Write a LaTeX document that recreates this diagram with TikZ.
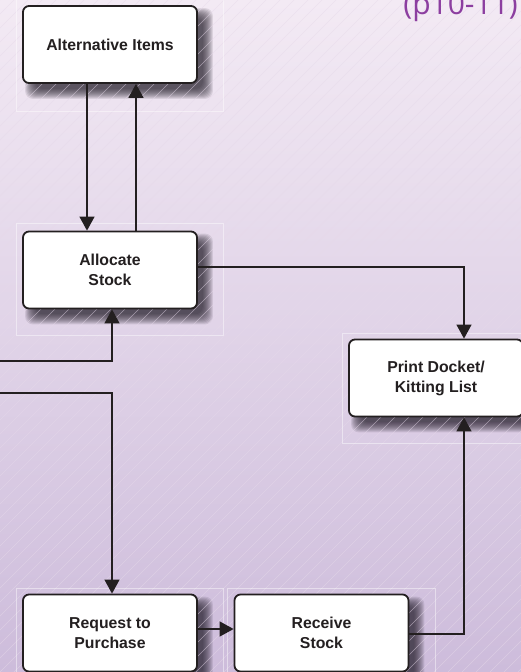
\documentclass[tikz,border=0pt]{standalone}
\usepackage{fontspec}
\setmainfont{Liberation Sans}
\newfontfamily\titlefont{Open Sans}
\usetikzlibrary{arrows.meta}
\definecolor{ink}{HTML}{231F20}
\definecolor{bgtop}{HTML}{F3EAF4}
\definecolor{bgmid}{HTML}{E3D3E8}
\definecolor{bgbot}{HTML}{CDBCDB}
\definecolor{hatchc}{HTML}{E6D9EA}
\definecolor{titlec}{RGB}{140,62,160}
\definecolor{shadowc}{HTML}{1E1824}
\tikzset{
  procbox/.style={draw=ink, line width=1.8pt, fill=white, rounded corners=6pt,
    minimum width=174pt, minimum height=77pt, inner sep=0pt, align=center,
    text=ink, font=\bfseries\fontsize{15.8}{20}\selectfont},
  conn/.style={draw=ink, line width=1.3pt},
  arr/.style={conn, -{Triangle[length=14pt,width=15pt]}},
  framebox/.style={draw=white, draw opacity=0.45, line width=0.6pt},
}
\newcommand{\myshadow}[1]{%
  \foreach \e in {0,...,10}{%
    \fill[shadowc, opacity=0.1, rounded corners=8pt]
      ([shift={(13-\e,5+\e)}]#1.south west) rectangle ([shift={(5+\e,13-\e)}]#1.north east);
  }%
}
\begin{document}
\begin{tikzpicture}[x=1pt,y=-1pt]
\useasboundingbox (0,0) rectangle (521,672);
\clip (0,0) rectangle (521,672);
\shade[top color=bgtop, middle color=bgmid, bottom color=bgbot] (0,0) rectangle (521,672);

% nodes (invisible first pass for positions)
\path
  node[procbox, draw=none, fill=none, text opacity=0] (alt) at (110,44.5) {Alternative Items}
  node[procbox, draw=none, fill=none, text opacity=0] (alloc) at (110,270) {Allocate\\Stock}
  node[procbox, draw=none, fill=none, text opacity=0] (print) at (436,378) {Print Docket/\\Kitting List}
  node[procbox, draw=none, fill=none, text opacity=0] (req) at (110,633) {Request to\\Purchase}
  node[procbox, draw=none, fill=none, text opacity=0] (recv) at (321.5,633) {Receive\\Stock};

% shadows
\myshadow{alt}
\myshadow{alloc}
\myshadow{print}
\myshadow{req}
\myshadow{recv}

% hatching
\foreach \i in {-700,-686,...,530}{
  \draw[hatchc, line width=0.5pt, opacity=0.55] (\i,672) -- (\i+672,0);
}

% faint frames
\draw[framebox] (16,-1) rectangle (223,111);
\draw[framebox] (16,223) rectangle (223,335);
\draw[framebox] (342,333) rectangle (549,443);
\draw[framebox] (16,588) rectangle (223,700);
\draw[framebox] (227,588) rectangle (435,700);

% title
\node[anchor=base east, inner sep=0pt, text=titlec, font=\titlefont\fontsize{30}{36}\selectfont] (title) at (518,14) {(p10-11)};

% boxes
\node[procbox] (alt) at (110,44.5) {Alternative Items};
\node[procbox] (alloc) at (110,270) {Allocate\\Stock};
\node[procbox] (print) at (436,378) {Print Docket/\\Kitting List};
\node[procbox] (req) at (110,633) {Request to\\Purchase};
\node[procbox] (recv) at (321.5,633) {Receive\\Stock};

% entry coordinates
\coordinate (in1) at (0,361);
\coordinate (in2) at (0,393);

% connectors
\draw[arr] ([xshift=-23pt]alt.south) -- ([xshift=-23pt]alloc.north);
\draw[arr] ([xshift=26pt]alloc.north) -- ([xshift=26pt]alt.south);
\draw[arr] ([yshift=3pt]alloc.east) -| ([xshift=28pt]print.north);
\draw[arr] (in1) -| ([xshift=2pt]alloc.south);
\draw[arr] (in2) -| ([xshift=2pt]req.north);
\draw[arr] ([yshift=4pt]req.east) -- ([yshift=4pt]recv.west);
\draw[arr] ([yshift=-1pt]recv.east) -| ([xshift=28pt]print.south);
\end{tikzpicture}
\end{document}
